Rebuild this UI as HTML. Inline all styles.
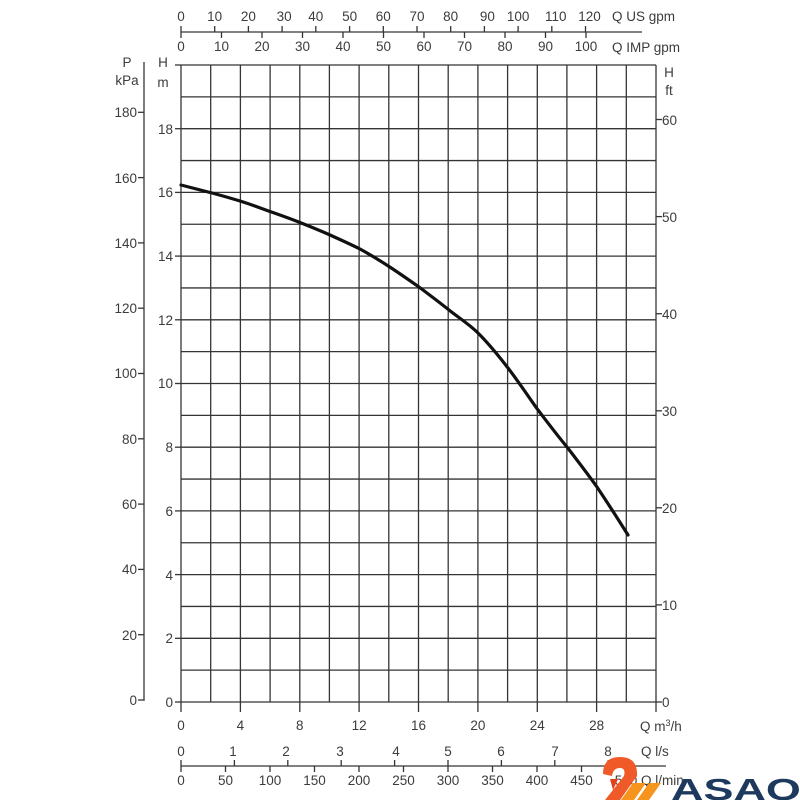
<!DOCTYPE html>
<html><head><meta charset="utf-8"><style>
html,body{margin:0;padding:0;background:#fff;}
svg{display:block;}
text{font-family:"Liberation Sans",Arial,sans-serif;fill:#3c3c3c;font-size:13.5px;}
</style></head><body>
<svg width="800" height="800" viewBox="0 0 800 800" xmlns="http://www.w3.org/2000/svg">
<rect width="800" height="800" fill="#fff"/>
<g id="grid" stroke="#353535" stroke-width="1.3" fill="none">
<line x1="181" y1="702" x2="656" y2="702"/>
<line x1="181" y1="670.15" x2="656" y2="670.15"/>
<line x1="181" y1="638.3" x2="656" y2="638.3"/>
<line x1="181" y1="606.45" x2="656" y2="606.45"/>
<line x1="181" y1="574.6" x2="656" y2="574.6"/>
<line x1="181" y1="542.75" x2="656" y2="542.75"/>
<line x1="181" y1="510.9" x2="656" y2="510.9"/>
<line x1="181" y1="479.05" x2="656" y2="479.05"/>
<line x1="181" y1="447.2" x2="656" y2="447.2"/>
<line x1="181" y1="415.35" x2="656" y2="415.35"/>
<line x1="181" y1="383.5" x2="656" y2="383.5"/>
<line x1="181" y1="351.65" x2="656" y2="351.65"/>
<line x1="181" y1="319.8" x2="656" y2="319.8"/>
<line x1="181" y1="287.95" x2="656" y2="287.95"/>
<line x1="181" y1="256.1" x2="656" y2="256.1"/>
<line x1="181" y1="224.25" x2="656" y2="224.25"/>
<line x1="181" y1="192.4" x2="656" y2="192.4"/>
<line x1="181" y1="160.55" x2="656" y2="160.55"/>
<line x1="181" y1="128.7" x2="656" y2="128.7"/>
<line x1="181" y1="96.85" x2="656" y2="96.85"/>
<line x1="181" y1="65" x2="656" y2="65"/>
<line x1="181" y1="65" x2="181" y2="712"/>
<line x1="210.7" y1="65" x2="210.7" y2="702"/>
<line x1="240.4" y1="65" x2="240.4" y2="712"/>
<line x1="270.1" y1="65" x2="270.1" y2="702"/>
<line x1="299.8" y1="65" x2="299.8" y2="712"/>
<line x1="329.4" y1="65" x2="329.4" y2="702"/>
<line x1="359.1" y1="65" x2="359.1" y2="712"/>
<line x1="388.8" y1="65" x2="388.8" y2="702"/>
<line x1="418.5" y1="65" x2="418.5" y2="712"/>
<line x1="448.2" y1="65" x2="448.2" y2="702"/>
<line x1="477.9" y1="65" x2="477.9" y2="712"/>
<line x1="507.6" y1="65" x2="507.6" y2="702"/>
<line x1="537.3" y1="65" x2="537.3" y2="712"/>
<line x1="566.9" y1="65" x2="566.9" y2="702"/>
<line x1="596.6" y1="65" x2="596.6" y2="712"/>
<line x1="626.3" y1="65" x2="626.3" y2="702"/>
<line x1="656" y1="65" x2="656" y2="712"/>
</g>
<g stroke="#353535" stroke-width="1.3">
<line x1="175" y1="702" x2="181" y2="702"/><line x1="175" y1="638.3" x2="181" y2="638.3"/>
<line x1="175" y1="574.6" x2="181" y2="574.6"/><line x1="175" y1="510.9" x2="181" y2="510.9"/>
<line x1="175" y1="447.2" x2="181" y2="447.2"/><line x1="175" y1="383.5" x2="181" y2="383.5"/>
<line x1="175" y1="319.8" x2="181" y2="319.8"/><line x1="175" y1="256.1" x2="181" y2="256.1"/>
<line x1="175" y1="192.4" x2="181" y2="192.4"/><line x1="175" y1="128.7" x2="181" y2="128.7"/>
<line x1="175" y1="65" x2="181" y2="65"/>
<line x1="656" y1="702" x2="662" y2="702"/><line x1="656" y1="604.9" x2="662" y2="604.9"/>
<line x1="656" y1="507.8" x2="662" y2="507.8"/><line x1="656" y1="410.8" x2="662" y2="410.8"/>
<line x1="656" y1="313.7" x2="662" y2="313.7"/><line x1="656" y1="216.6" x2="662" y2="216.6"/>
<line x1="656" y1="119.5" x2="662" y2="119.5"/>
<line x1="144" y1="62" x2="144" y2="700.6"/>
<line x1="138" y1="700" x2="144.6" y2="700"/><line x1="138" y1="634.7" x2="144" y2="634.7"/>
<line x1="138" y1="569.4" x2="144" y2="569.4"/><line x1="138" y1="504.1" x2="144" y2="504.1"/>
<line x1="138" y1="438.8" x2="144" y2="438.8"/><line x1="138" y1="373.5" x2="144" y2="373.5"/>
<line x1="138" y1="308.2" x2="144" y2="308.2"/><line x1="138" y1="242.9" x2="144" y2="242.9"/>
<line x1="138" y1="177.6" x2="144" y2="177.6"/><line x1="138" y1="112.3" x2="144" y2="112.3"/>
<line x1="181" y1="32" x2="642" y2="32"/>
<line x1="181" y1="26" x2="181" y2="38"/>
<line x1="214.7" y1="26" x2="214.7" y2="32"/><line x1="248.4" y1="26" x2="248.4" y2="32"/>
<line x1="282.1" y1="26" x2="282.1" y2="32"/><line x1="315.8" y1="26" x2="315.8" y2="32"/>
<line x1="349.6" y1="26" x2="349.6" y2="32"/><line x1="383.3" y1="26" x2="383.3" y2="32"/>
<line x1="417" y1="26" x2="417" y2="32"/><line x1="450.7" y1="26" x2="450.7" y2="32"/>
<line x1="484.4" y1="26" x2="484.4" y2="32"/><line x1="518.1" y1="26" x2="518.1" y2="32"/>
<line x1="551.8" y1="26" x2="551.8" y2="32"/><line x1="585.5" y1="26" x2="585.5" y2="32"/>
<line x1="221.5" y1="32" x2="221.5" y2="38"/><line x1="262" y1="32" x2="262" y2="38"/>
<line x1="302.5" y1="32" x2="302.5" y2="38"/><line x1="343" y1="32" x2="343" y2="38"/>
<line x1="383.5" y1="32" x2="383.5" y2="38"/><line x1="424" y1="32" x2="424" y2="38"/>
<line x1="464.5" y1="32" x2="464.5" y2="38"/><line x1="505" y1="32" x2="505" y2="38"/>
<line x1="545.5" y1="32" x2="545.5" y2="38"/><line x1="586" y1="32" x2="586" y2="38"/>
<line x1="181" y1="766" x2="666" y2="766"/>
<line x1="181" y1="760" x2="181" y2="772"/>
<line x1="234.4" y1="760" x2="234.4" y2="766"/><line x1="287.8" y1="760" x2="287.8" y2="766"/>
<line x1="341.2" y1="760" x2="341.2" y2="766"/><line x1="394.6" y1="760" x2="394.6" y2="766"/>
<line x1="448" y1="760" x2="448" y2="766"/><line x1="501.4" y1="760" x2="501.4" y2="766"/>
<line x1="554.8" y1="760" x2="554.8" y2="766"/><line x1="608.2" y1="760" x2="608.2" y2="766"/>
<line x1="225.5" y1="766" x2="225.5" y2="772"/><line x1="270" y1="766" x2="270" y2="772"/>
<line x1="314.5" y1="766" x2="314.5" y2="772"/><line x1="359" y1="766" x2="359" y2="772"/>
<line x1="403.5" y1="766" x2="403.5" y2="772"/><line x1="448" y1="766" x2="448" y2="772"/>
<line x1="492.5" y1="766" x2="492.5" y2="772"/><line x1="537" y1="766" x2="537" y2="772"/>
<line x1="581.5" y1="766" x2="581.5" y2="772"/><line x1="626" y1="766" x2="626" y2="772"/>
</g>
<path d="M181,185 C191,187.5 200,190 210,192.5 C220,195 230,198 240,201 C250,204 260,208 270,211.5 C280,215 290,218.5 300,222.5 C310,226.5 320,230.5 330,235 C340,239.5 350,244 360,249 C370,254.5 379,260 389,266.5 C399,273 409,280 419,287 C429,294.5 439,302 449,310 C459,318 469,324 478,333 C489,344 498,355 508,368 C518,381 528,396 538,410 C548,423 557,435 567,447 C577,460 587,473 597,487 C607,502 618,519 628,535" fill="none" stroke="#111" stroke-width="3.2" stroke-linecap="round"/>
<g text-anchor="end">
<text x="173" y="707">0</text><text x="173" y="643">2</text><text x="173" y="580">4</text>
<text x="173" y="516">6</text><text x="173" y="452">8</text><text x="173" y="388">10</text>
<text x="173" y="325">12</text><text x="173" y="261">14</text><text x="173" y="197">16</text>
<text x="173" y="134">18</text>
<text x="137" y="705">0</text><text x="137" y="640">20</text><text x="137" y="574">40</text>
<text x="137" y="509">60</text><text x="137" y="444">80</text><text x="137" y="378">100</text>
<text x="137" y="313">120</text><text x="137" y="248">140</text><text x="137" y="183">160</text>
<text x="137" y="117">180</text>
</g>
<g text-anchor="middle">
<text x="163" y="67">H</text><text x="163" y="87">m</text>
<text x="127" y="67">P</text><text x="127" y="85">kPa</text>
<text x="669" y="77">H</text><text x="669" y="95">ft</text>
</g>
<g>
<text x="662" y="707">0</text><text x="662" y="610">10</text><text x="662" y="513">20</text>
<text x="662" y="416">30</text><text x="662" y="319">40</text><text x="662" y="222">50</text>
<text x="662" y="125">60</text>
</g>
<g text-anchor="middle">
<text x="181" y="21">0</text><text x="214.7" y="21">10</text><text x="248.4" y="21">20</text>
<text x="284.1" y="21">30</text><text x="315.8" y="21">40</text><text x="349.6" y="21">50</text>
<text x="383.3" y="21">60</text><text x="417" y="21">70</text><text x="450.7" y="21">80</text>
<text x="487.4" y="21">90</text><text x="518.1" y="21">100</text><text x="555.8" y="21">110</text>
<text x="589.5" y="21">120</text>
<text x="181" y="51">0</text><text x="221.5" y="51">10</text><text x="262" y="51">20</text>
<text x="302.5" y="51">30</text><text x="343" y="51">40</text><text x="383.5" y="51">50</text>
<text x="424" y="51">60</text><text x="464.5" y="51">70</text><text x="505" y="51">80</text>
<text x="545.5" y="51">90</text><text x="586" y="51">100</text>
</g>
<text x="612" y="21">Q US gpm</text>
<text x="612" y="52">Q IMP gpm</text>
<g text-anchor="middle">
<text x="181" y="730">0</text><text x="240.4" y="730">4</text><text x="299.8" y="730">8</text>
<text x="359.1" y="730">12</text><text x="418.5" y="730">16</text><text x="477.9" y="730">20</text>
<text x="537.3" y="730">24</text><text x="596.6" y="730">28</text>
<text x="181" y="756">0</text><text x="233" y="756">1</text><text x="286" y="756">2</text>
<text x="340" y="756">3</text><text x="396" y="756">4</text><text x="448" y="756">5</text>
<text x="501" y="756">6</text><text x="555" y="756">7</text><text x="608" y="756">8</text>
<text x="181" y="785">0</text><text x="225.5" y="785">50</text><text x="270" y="785">100</text>
<text x="314.5" y="785">150</text><text x="359" y="785">200</text><text x="403.5" y="785">250</text>
<text x="448" y="785">300</text><text x="492.5" y="785">350</text><text x="537" y="785">400</text>
<text x="581.5" y="785">450</text><text x="626" y="785">500</text>
</g>
<text x="640" y="731">Q m<tspan style="font-size:9px" dy="-5">3</tspan><tspan dy="5">/h</tspan></text>
<text x="641" y="756">Q l/s</text>
<text x="641" y="785">Q l/min</text>
<g>
<path d="M603,774 Q603,757 620,757 Q638,757 637,776 L620,800 L605,800 L624,776 Q626,768 620,768 Q613,768 612,776 Z" fill="#f05a28"/>
<path d="M610,779 L618,779 L613,790 Z" fill="#e2401c"/>
<path d="M633,783 L646,783 L634,800 L621,800 Z" fill="#f7941d"/>
<path d="M649,783 L661,783 L649,800 L637,800 Z" fill="#f7941d"/>
<text transform="translate(671,800) scale(1.45,1)" style="font-size:31px;font-weight:bold;fill:#1d3a5e">ASAO</text>
</g>
</svg>
</body></html>
